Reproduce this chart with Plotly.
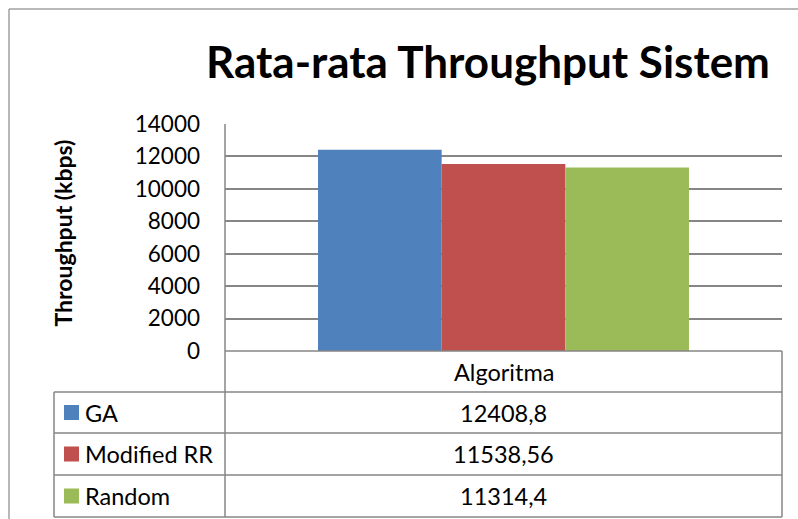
import plotly.graph_objects as go

# ---- data ----
category = ["Algoritma"]
series_names = ["GA", "Modified RR", "Random"]
series_values = [12408.8, 11538.56, 11314.4]
value_labels = ["12408,8", "11538,56", "11314,4"]
series_colors = ["#4F81BD", "#C0504D", "#9BBB59"]
y_ticks = [0, 2000, 4000, 6000, 8000, 10000, 12000, 14000]

W, H = 798, 519
FONT = "Lato"
GRID = "#868686"


def X(px):
    return px / W


def Y(py):
    return 1 - py / H


fig = go.Figure()
for name, val, col in zip(series_names, series_values, series_colors):
    fig.add_trace(go.Bar(x=category, y=[val], name=name, marker=dict(color=col, line=dict(width=0)),
                         showlegend=False))

shapes = []
annotations = []


def line(x0, y0, x1, y1, color=GRID, width=1.5):
    shapes.append(dict(type="line", xref="paper", yref="paper", x0=X(x0), y0=Y(y0), x1=X(x1), y1=Y(y1),
                       line=dict(color=color, width=width)))


def text(x, y, s, size, xanchor="center", yanchor="middle", angle=0):
    annotations.append(dict(xref="paper", yref="paper", x=X(x), y=Y(y), text=s, showarrow=False,
                            xanchor=xanchor, yanchor=yanchor, textangle=angle,
                            font=dict(family=FONT, size=size, color="#000")))


# outer chart border
line(9, 9, 798, 9, color="#a0a0a0", width=1.5)
line(9, 9, 9, 519, color="#a0a0a0", width=1.5)

# table
tl, tc, tr = 54, 225, 782
rows = [351, 392, 433, 475, 517]
line(tc, 124, tc, rows[-1])
line(tc, rows[0], tr, rows[0])
for r in rows[1:]:
    line(tl, r, tr, r)
line(tl, rows[1], tl, rows[-1])
line(tr, rows[0], tr, rows[-1])

text((tc + tr) / 2, (rows[0] + rows[1]) / 2, category[0], 23.5)
for i, (name, lab, col) in enumerate(zip(series_names, value_labels, series_colors)):
    cy = (rows[i + 1] + rows[i + 2]) / 2
    shapes.append(dict(type="rect", xref="paper", yref="paper", x0=X(64), x1=X(79), y0=Y(cy - 7.5), y1=Y(cy + 7.5),
                       fillcolor=col, line=dict(width=0)))
    text(83, cy, name, 23.5, xanchor="left")
    text((tc + tr) / 2, cy, lab, 23.5)

# title
text(488, 61, "<b>Rata-rata Throughput Sistem</b>", 44)
# y title
text(62.5, 233, "<b>Throughput (kbps)</b>", 23, angle=-90)

fig.update_layout(
    width=W, height=H, autosize=False,
    margin=dict(l=0, r=0, t=0, b=0, autoexpand=False),
    paper_bgcolor="white", plot_bgcolor="white",
    barmode="group", bargap=0.334, bargroupgap=0,
    shapes=shapes, annotations=annotations,
    xaxis=dict(domain=[X(tc), X(tr)], showticklabels=False, showgrid=False, zeroline=False, showline=False,
               automargin=False),
    yaxis=dict(domain=[Y(351), Y(124)], range=[0, 14000], tickvals=y_ticks,
               ticktext=[str(v) for v in y_ticks], showgrid=True, gridcolor=GRID, gridwidth=1.5,
               zeroline=False, showline=False, ticks="", ticklabelstandoff=24, automargin=False,
               tickfont=dict(family=FONT, size=22.5, color="#000")),
)

fig.write_html("out.html", config={"displayModeBar": False},
               post_script="document.body.style.margin='0';")
